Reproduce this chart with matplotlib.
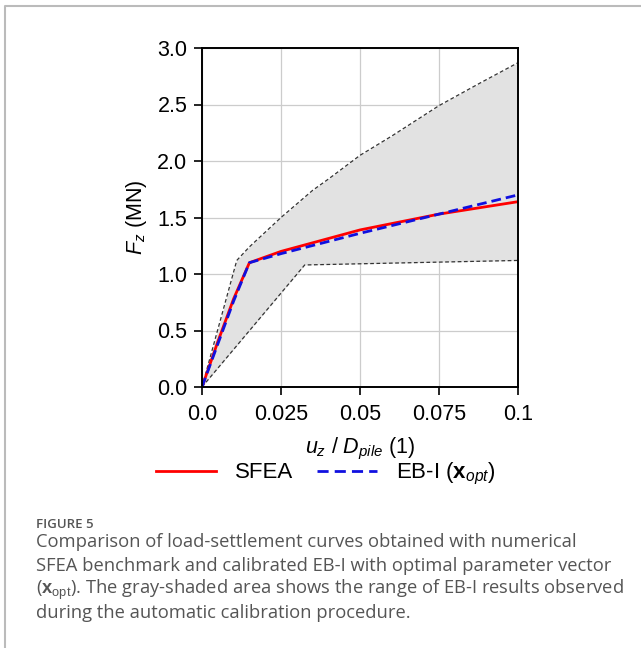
import numpy as np
import matplotlib.pyplot as plt
from matplotlib.lines import Line2D

plt.rcParams['font.family'] = ['Liberation Sans', 'DejaVu Sans']
plt.rcParams['mathtext.fontset'] = 'custom'
plt.rcParams['mathtext.rm'] = 'Liberation Sans'
plt.rcParams['mathtext.it'] = 'Liberation Sans:italic'
plt.rcParams['mathtext.bf'] = 'Liberation Sans:bold'

# normalised settlement u_z / D_pile
u_upper = [0.0, 0.011, 0.015, 0.02, 0.025, 0.03, 0.035, 0.04, 0.05, 0.06, 0.075, 0.088, 0.1]
f_upper = [0.0, 1.12, 1.24, 1.37, 1.50, 1.62, 1.74, 1.84, 2.05, 2.22, 2.49, 2.69, 2.87]
u_lower = [0.0, 0.0325, 0.1]
f_lower = [0.0, 1.08, 1.12]
u_sfea = [0.0, 0.005, 0.01, 0.015, 0.025, 0.05, 0.075, 0.1]
f_sfea = [0.0, 0.40, 0.78, 1.10, 1.20, 1.39, 1.53, 1.64]
u_eb = [0.0, 0.005, 0.01, 0.015, 0.025, 0.05, 0.075, 0.1]
f_eb = [0.0, 0.38, 0.76, 1.10, 1.18, 1.36, 1.53, 1.70]

fig = plt.figure(figsize=(6.41, 6.48), dpi=100)
ax = fig.add_axes([202 / 641, 1 - 387 / 648, 316 / 641, 339 / 648])

# shaded range between the bounds
grid_u = np.union1d(u_upper, u_lower)
ax.fill_between(grid_u, np.interp(grid_u, u_lower, f_lower),
                np.interp(grid_u, u_upper, f_upper), color='#e2e2e2', lw=0)
ax.plot(u_upper, f_upper, '--', color='#333333', lw=0.9, dashes=(3, 2))
ax.plot(u_lower, f_lower, '--', color='#333333', lw=0.9, dashes=(3, 2))
ax.plot(u_sfea, f_sfea, color='red', lw=2)
ax.plot(u_eb, f_eb, '--', color='#1010e0', lw=2, dashes=(3.5, 1.8))

ax.set_xlim(0, 0.1)
ax.set_ylim(0, 3.0)
ax.set_xticks([0, 0.025, 0.05, 0.075, 0.1])
ax.set_xticklabels(['0.0', '0.025', '0.05', '0.075', '0.1'])
ax.set_yticks(np.arange(0, 3.01, 0.5))
ax.set_yticklabels(['%.1f' % v for v in np.arange(0, 3.01, 0.5)])
ax.grid(color='#cccccc', lw=0.9)
ax.set_axisbelow(True)
ax.tick_params(labelsize=15.5, length=6, width=1.2, direction='out', colors='black')
ax.tick_params(axis='y', pad=4.5)
ax.tick_params(axis='x', pad=6)
for s in ax.spines.values():
    s.set_linewidth(1.4)

ax.set_xlabel(r'$u_z\ /\ D_{pile}$ (1)', fontsize=15.5, labelpad=8)
ax.set_ylabel(r'$F_z$ (MN)', fontsize=15.5, labelpad=6)

handles = [Line2D([], [], color='red', lw=2),
           Line2D([], [], color='#1010e0', lw=2, ls='--', dashes=(4, 2.2))]
fig.legend(handles, ['SFEA', r'EB-I ($\mathbf{x}_{opt}$)'], loc='center',
           bbox_to_anchor=(326 / 641, 1 - 474 / 648), ncol=2, frameon=False,
           fontsize=16, handlelength=2.7, columnspacing=1.1, handletextpad=0.85,
           borderpad=0, borderaxespad=0)

# page frame
fig.add_artist(Line2D([4.5 / 641, 4.5 / 641, 1.0], [0.0, 1 - 5.5 / 648, 1 - 5.5 / 648],
                      transform=fig.transFigure, color='#bbbbbb', lw=1.5))

fig.text(36 / 641, 1 - 528 / 648, 'FIGURE 5', fontsize=9.5, color='#555555',
         family='Open Sans', va='baseline', fontweight='semibold')
caption = ['Comparison of load-settlement curves obtained with numerical',
           'SFEA benchmark and calibrated EB-I with optimal parameter vector',
           r'($\mathbf{x}_{\mathrm{opt}}$). The gray-shaded area shows the range of EB-I results observed',
           'during the automatic calibration procedure.']
for i, line in enumerate(caption):
    fig.text(36 / 641, 1 - (547 + 23.7 * i) / 648, line, fontsize=13.2, color='#555555',
             family='Open Sans', va='baseline')

fig.savefig('out.png', dpi=100)
